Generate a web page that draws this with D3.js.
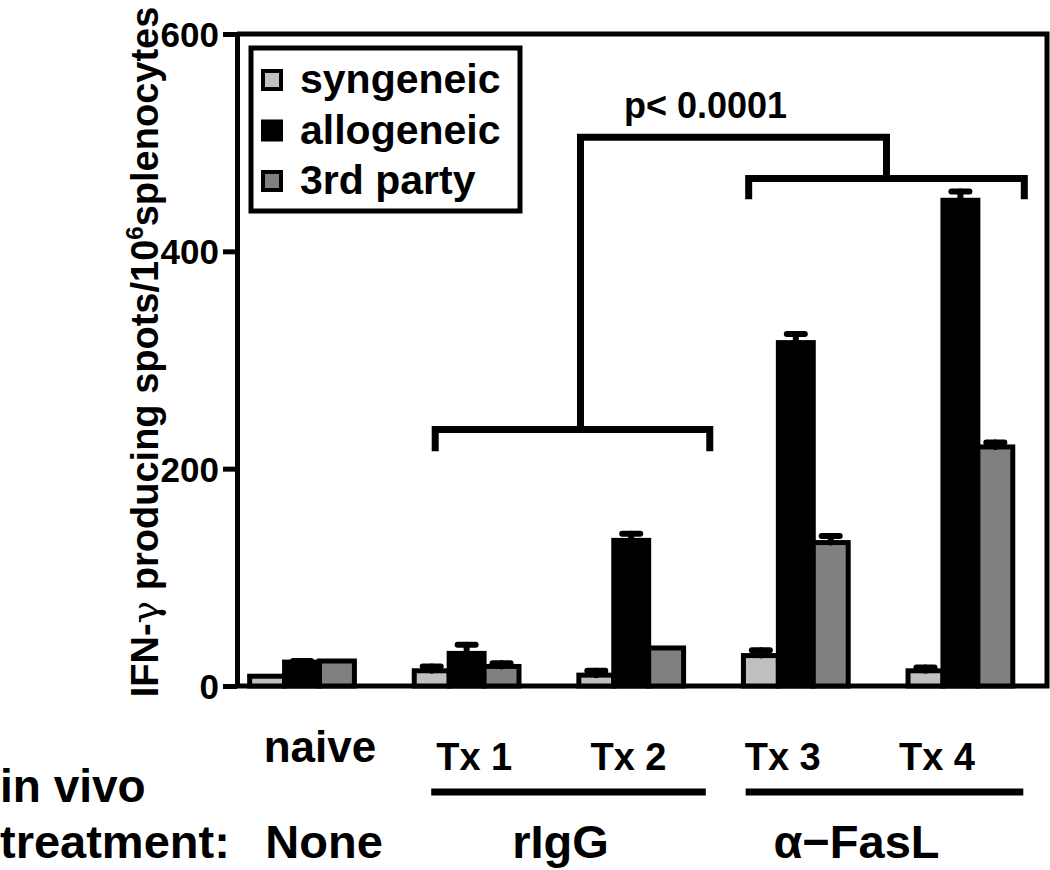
<!DOCTYPE html>
<html lang="en">
<head>
  <meta charset="UTF-8">
  <title>IFN-γ ELISPOT</title>
  <style>
    body {
      margin: 0;
      padding: 0;
      background: #fff;
    }
    svg text {
      font-family: 'Liberation Sans', Arial, Helvetica, sans-serif;
      font-weight: bold;
      fill: #000;
    }
  </style>
</head>
<body>
  <svg id="chart" width="1050" height="870"></svg>

  <script src="https://cdnjs.cloudflare.com/ajax/libs/d3/7.8.5/d3.min.js"></script>
  <script>
    // data
    const groups = ["naive", "Tx 1", "Tx 2", "Tx 3", "Tx 4"];
    const series = ["syngeneic", "allogeneic", "3rd party"];
    const syngeneic = [9, 14, 10, 28, 14];
    const allogeneic = [22, 30, 134, 316, 447];
    const thirdParty = [23, 18, 35, 132, 220];
    const synErr = [0, 4, 4, 5, 3];
    const alloErr = [1, 8, 6, 8, 8];
    const thirdErr = [0, 3, 0, 6, 4];
    const yTicks = [0, 200, 400, 600];
    const treatments = ["None", "rIgG", "α−FasL"];
    const pText = "p< 0.0001";

    const colors = { "syngeneic": "#c0c0c0", "allogeneic": "#000", "3rd party": "#808080" };
    const values = { "syngeneic": syngeneic, "allogeneic": allogeneic, "3rd party": thirdParty };
    const errors = { "syngeneic": synErr, "allogeneic": alloErr, "3rd party": thirdErr };

    const svg = d3.select("#chart");
    const mLeft = 237, mRight = 1047, mTop = 34, mBottom = 686;

    const y = d3.scaleLinear().domain([0, 600]).range([mBottom, mTop]);
    const x0 = d3.scaleBand().domain(groups).range([mLeft, mRight])
      .paddingInner(0.3636).paddingOuter(0.1424).align(0.27);
    const x1 = d3.scaleBand().domain(series).range([0, x0.bandwidth()]);
    // category labels sit on their own evenly spaced points
    const xl = d3.scalePoint().domain(groups).range([320, 937]);

    // frame: top + right + baseline
    svg.append("path")
      .attr("d", `M${mLeft},${y(600)}H${mRight}V${y(0)}H${mLeft}`)
      .attr("fill", "none").attr("stroke", "#000").attr("stroke-width", 5);

    // y axis
    const yAxis = svg.append("g")
      .attr("transform", `translate(${mLeft},0)`)
      .call(d3.axisLeft(y).tickValues(yTicks).tickSize(14).tickSizeOuter(0).tickPadding(4));
    yAxis.select(".domain").attr("stroke-width", 5);
    yAxis.selectAll(".tick line").attr("stroke-width", 5);
    yAxis.selectAll(".tick text")
      .style("font-size", "35px").style("font-weight", "bold")
      .style("font-family", "'Liberation Sans', Arial, sans-serif")
      .attr("dy", "0.36em");

    // y label
    const yl = svg.append("text")
      .attr("transform", `translate(158,352) rotate(-90)`)
      .attr("text-anchor", "middle")
      .style("font-size", "38px");
    yl.append("tspan").text("IFN-");
    yl.append("tspan").style("font-family", "'DejaVu Serif', serif").style("font-weight", "normal").text("γ");
    yl.append("tspan").text(" producing spots/10");
    yl.append("tspan").attr("dy", -15).style("font-size", "24px").text("6");
    yl.append("tspan").attr("dy", 15).text("splenocytes");

    // bars
    const bars = [];
    groups.forEach((g, i) => {
      series.forEach(s => {
        bars.push({ g, s, v: values[s][i], e: errors[s][i] });
      });
    });

    svg.append("g").selectAll("rect")
      .data(bars)
      .join("rect")
      .attr("x", d => x0(d.g) + x1(d.s))
      .attr("y", d => y(d.v))
      .attr("width", x1.bandwidth())
      .attr("height", d => y(0) - y(d.v))
      .attr("fill", d => colors[d.s])
      .attr("stroke", "#000")
      .attr("stroke-width", 5);

    // error bars (upper only)
    const eb = svg.append("g").attr("stroke", "#000").attr("stroke-width", 6).attr("stroke-linecap", "round");
    bars.filter(d => d.e > 0).forEach(d => {
      const cx = x0(d.g) + x1(d.s) + x1.bandwidth() / 2;
      eb.append("line").attr("x1", cx).attr("x2", cx).attr("y1", y(d.v)).attr("y2", y(d.v + d.e));
      eb.append("line").attr("x1", cx - 9).attr("x2", cx + 9).attr("y1", y(d.v + d.e)).attr("y2", y(d.v + d.e));
    });

    // significance brackets
    const bw = x0.bandwidth();
    const lowA = x0("Tx 1") + 0.2 * bw, lowB = x0("Tx 2") + 1.25 * bw;
    const upA = x0("Tx 3") + 0.05 * bw, upB = x0("Tx 4") + 1.11 * bw;
    const lowMid = (lowA + lowB) / 2 + 8, upMid = (upA + upB) / 2;
    const br = svg.append("g").attr("fill", "none").attr("stroke", "#000").attr("stroke-width", 7);
    br.append("path").attr("d", `M${lowA},${y(216)}V${y(236)}H${lowB}V${y(216)}`);
    br.append("path").attr("d", `M${upA},${y(448)}V${y(467)}H${upB}V${y(448)}`);
    br.append("path").attr("d", `M${lowMid},${y(236)}V${y(505)}H${upMid}V${y(467)}`);
    svg.append("text")
      .attr("x", (lowMid + upMid) / 2 - 28).attr("y", 118)
      .attr("text-anchor", "middle").style("font-size", "36px")
      .text(pText);

    // legend
    const lg = svg.append("g");
    lg.append("rect").attr("x", 251).attr("y", 48).attr("width", 269).attr("height", 163)
      .attr("fill", "#fff").attr("stroke", "#000").attr("stroke-width", 5);
    series.forEach((s, i) => {
      const cy = 80 + i * 50.5;
      lg.append("rect").attr("x", 263).attr("y", cy - 9).attr("width", 18).attr("height", 18)
        .attr("fill", colors[s]).attr("stroke", "#000").attr("stroke-width", 4);
      lg.append("text").attr("x", 300).attr("y", cy + 13).style("font-size", "41px").text(s);
    });

    // category labels
    svg.append("g").selectAll("text")
      .data(groups)
      .join("text")
      .attr("x", d => xl(d))
      .attr("y", d => d === "naive" ? 762 : 770)
      .attr("text-anchor", "middle")
      .style("font-size", d => d === "naive" ? "44px" : "38px")
      .text(d => d);

    // treatment row
    svg.append("text").attr("x", 0).attr("y", 802).style("font-size", "46px").text("in vivo");
    svg.append("text").attr("x", 0).attr("y", 858).style("font-size", "47px").text("treatment:");
    const ul = svg.append("g").attr("stroke", "#000").attr("stroke-width", 7);
    ul.append("line").attr("x1", lowA - 4).attr("x2", lowB - 4).attr("y1", 792).attr("y2", 792);
    ul.append("line").attr("x1", upA - 3).attr("x2", upB - 1).attr("y1", 792).attr("y2", 792);
    const tx = [x0("naive") + bw / 2 + 22, (lowA + lowB) / 2 - 12, (upA + upB) / 2 - 30];
    svg.append("g").selectAll("text")
      .data(treatments)
      .join("text")
      .attr("x", (d, i) => tx[i])
      .attr("y", 858)
      .attr("text-anchor", "middle")
      .style("font-size", "47px")
      .text(d => d);
  </script>
</body>
</html>
